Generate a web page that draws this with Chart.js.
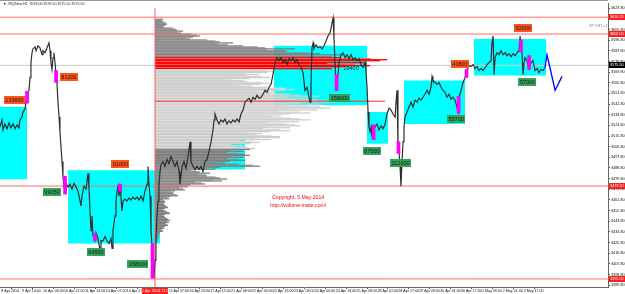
<!DOCTYPE html>
<html><head><meta charset="utf-8">
<script src="https://cdn.jsdelivr.net/npm/chart.js@4.4.1/dist/chart.umd.min.js"></script>
<style>html,body{margin:0;padding:0;background:#fff;overflow:hidden}</style>
</head><body>
<canvas id="c" width="625" height="294"></canvas>
<script>
// ---- DATA (hours since 8 Apr 2014 chart start, prices) ----
const xTickHours=[1,17,33,49,65,81,97,113,129,145,161,177,193,209,225,241,257,273,289,305,321,337,353,369,385,401];
const xTickLabels=["8 Apr 2014","9 Apr 14:00","10 Apr 06:00","10 Apr 22:00","11 Apr 14:00","14 Apr 07:00","14 Apr 23:00","15 Apr 15:00","16 Apr 07:00","16 Apr 23:00","17 Apr 15:00","21 Apr 08:00","22 Apr 00:00","22 Apr 16:00","23 Apr 08:00","24 Apr 00:00","24 Apr 16:00","25 Apr 08:00","28 Apr 01:00","28 Apr 17:00","29 Apr 09:00","30 Apr 01:00","30 Apr 17:00","1 May 09:00","2 May 01:00","2 May 17:00"];
const yTickValues=[3389.8,3398.8,3407.8,3416.8,3425.8,3434.8,3443.8,3452.8,3461.8,3470.8,3479.8,3488.8,3497.8,3506.8,3515.8,3524.8,3533.8,3542.8,3551.8,3560.8,3569.8,3578.8,3587.8,3596.8,3605.8,3614.8,3623.8];

const pricePoints=[
[0,3523.5],[1.5,3529.4],[2.3,3521.0],[3.8,3526.0],[5.4,3521.9],[6.9,3526.9],[8.4,3522.7],[10,3526.0],[11.5,3521.9],[13,3525.2],
[14.5,3522.7],[15.3,3529.4],[16.8,3531.9],[17.6,3536.1],[19.1,3538.6],[19.9,3544.4],[20.7,3548.6],[21.4,3552.8],[22.2,3554.5],[23,3565.3],
[23.7,3577.9],[24.5,3586.2],[25.3,3589.6],[26.8,3591.2],[27.6,3587.9],[29.1,3592.1],[30.6,3590.4],[32.2,3584.5],[32.9,3587.9],[34.5,3586.2],
[36,3590.4],[37.5,3594.6],[38.3,3587.9],[39,3577.9],[39.8,3572.0],[40.6,3582.0],[41.3,3586.2],[42.1,3577.9],[42.9,3567.8],[43.6,3561.1],
[44.4,3544.4],[45.2,3531.9],[45.9,3519.4],[46.7,3506.8],[47.5,3494.3],[48.2,3481.8],[49,3473.4],[49.8,3469.2],[50.5,3475.9],[52.1,3472.6],
[53.6,3475.1],[55.1,3470.9],[56.7,3475.9],[58.2,3472.6],[59.7,3469.2],[61.3,3460.9],[62,3456.7],[62.8,3465.0],[64.3,3473.4],[65.9,3470.9],
[67.4,3484.3],[68.1,3473.4],[68.9,3452.5],[69.7,3435.8],[70.4,3448.3],[71.2,3431.6],[72.7,3427.4],[73.5,3434.1],[75,3429.1],[76.6,3419.1],
[77.3,3427.4],[78.9,3427.4],[80.4,3430.8],[81.9,3427.4],[83.5,3424.9],[85,3429.1],[85.8,3420.8],[86.5,3435.8],[88.1,3448.3],[88.8,3460.9],
[89.6,3469.2],[90.4,3473.4],[91.1,3465.0],[91.9,3475.1],[92.6,3465.0],[93.4,3452.5],[94.2,3460.9],[95.7,3462.5],[97.2,3460.9],[98.8,3463.4],
[100.3,3461.7],[101.8,3464.2],[103.4,3462.5],[104.9,3464.2],[106.4,3461.7],[108,3465.0],[109.5,3460.9],[111,3469.2],[112.6,3475.1],[113.3,3490.1],
[114.1,3473.4],[114.9,3465.0],[115.6,3435.8],[116.4,3423.3],[117.2,3402.4],[117.9,3395.7],[118.7,3410.7],[119.4,3427.4],[120.2,3448.3],[121,3460.9],
[121.7,3473.4],[122.5,3485.9],[123.3,3491.8],[124.8,3494.3],[126.3,3490.1],[127.9,3496.0],[129.4,3492.6],[130.9,3498.5],[132.5,3494.3],[134,3490.1],
[135.5,3494.3],[137.1,3485.9],[137.8,3475.1],[138.6,3481.8],[139.4,3490.1],[140.9,3494.3],[142.4,3488.4],[144,3498.5],[145.5,3511.0],[146.2,3494.3],
[147.8,3490.1],[149.3,3487.6],[150.8,3490.1],[152.4,3487.6],[153.9,3490.1],[155.4,3485.9],[157,3494.3],[158.5,3496.0],[160,3502.6],[161.6,3511.0],
[163.1,3521.0],[163.9,3529.4],[164.6,3534.4],[166.2,3529.4],[167.7,3526.0],[169.2,3529.4],[170.8,3527.7],[172.3,3530.2],[173.8,3526.0],[175.3,3528.6],
[176.9,3526.9],[178.4,3529.4],[179.9,3527.7],[181.5,3530.2],[183,3527.7],[184.5,3534.4],[186.1,3537.7],[187.6,3544.4],[189.1,3546.1],[190.7,3547.8],
[192.2,3544.4],[193.7,3548.6],[195.3,3546.9],[196.8,3550.3],[198.3,3547.8],[199.9,3548.6],[201.4,3551.1],[202.9,3554.5],[204.4,3552.8],[206,3557.0],
[207.5,3559.5],[209,3567.8],[210.6,3577.9],[212.1,3582.0],[213.6,3579.5],[215.2,3582.0],[216.7,3577.9],[218.2,3580.4],[219.8,3576.2],[221.3,3581.2],
[222.8,3579.5],[224.4,3582.0],[225.9,3577.9],[227.4,3580.4],[228.9,3576.2],[230.5,3573.7],[232,3569.5],[233.5,3554.5],[235.1,3557.0],[236.6,3548.6],
[237.4,3544.4],[238.1,3561.1],[238.9,3590.4],[239.7,3594.6],[240.4,3589.6],[242,3592.9],[243.5,3590.4],[245,3591.2],[246.6,3589.6],[248.1,3592.1],
[249.6,3596.2],[251.1,3600.4],[252.7,3602.9],[254.2,3611.3],[255,3615.5],[255.7,3598.8],[256.5,3577.9],[257.3,3554.5],[258,3561.1],[258.8,3567.8],
[259.6,3577.9],[261.1,3584.5],[262.6,3586.2],[264.2,3582.0],[265.7,3584.5],[267.2,3581.2],[268.8,3584.5],[270.3,3580.4],[271.8,3582.0],[273.4,3579.5],
[274.9,3581.2],[276.4,3576.2],[277.9,3573.7],[279.5,3577.9],[280.2,3571.2],[281,3557.0],[281.8,3536.1],[282.5,3523.5],[283.3,3519.4],[284.1,3523.5],
[284.8,3515.2],[285.6,3521.0],[287.1,3523.5],[288.7,3526.0],[290.2,3521.0],[291.7,3524.4],[293.3,3521.9],[294.8,3526.0],[296.3,3534.4],[297.9,3539.4],
[299.4,3537.7],[300.9,3534.4],[302.5,3531.9],[303.2,3544.4],[304,3554.5],[304.7,3506.8],[305.5,3502.6],[306.3,3490.1],[307,3473.4],[307.8,3494.3],
[308.6,3511.0],[309.3,3523.5],[310.1,3531.9],[311.6,3536.1],[313.2,3540.3],[314.7,3544.4],[316.2,3540.3],[317.8,3546.1],[319.3,3544.4],[320.8,3547.8],
[322.4,3546.1],[323.9,3548.6],[325.4,3551.1],[327,3554.5],[328.5,3551.1],[330,3557.0],[330.8,3566.2],[331.5,3562.8],[333.1,3561.1],[334.6,3559.5],
[336.1,3561.1],[337.7,3557.0],[339.2,3554.5],[340.7,3552.8],[342.3,3548.6],[343.8,3551.1],[345.3,3546.9],[346.9,3548.6],[348.4,3546.1],[349.9,3540.3],
[350.7,3536.1],[351.5,3548.6],[353,3554.5],[354.5,3561.1],[356.1,3565.3],[357.6,3571.2],[359.1,3575.4],[360.6,3574.5],[362.2,3576.2],[363.7,3572.8],
[365.2,3574.5],[366.8,3571.2],[368.3,3572.8],[369.8,3571.2],[371.4,3573.7],[372.9,3576.2],[374.4,3577.9],[376,3579.5],[376.7,3594.6],[377.5,3600.4],
[378.3,3567.8],[379,3582.0],[380.6,3586.2],[382.1,3584.5],[383.6,3587.9],[385.1,3584.5],[386.7,3586.2],[388.2,3583.7],[389.7,3585.4],[391.3,3582.9],
[392.8,3585.4],[394.3,3583.7],[395.9,3586.2],[397.4,3587.9],[398.2,3600.4],[398.9,3590.4],[399.7,3584.5],[400.5,3567.8],[401.2,3577.9],[402,3582.0],
[403.5,3579.5],[404.3,3576.2],[405.1,3572.8],[406.6,3577.9],[408.1,3579.5],[409.6,3571.2],[411.2,3572.8],[412.7,3569.5],[414.2,3572.0],[415.8,3571.2],
[417.3,3573.7]
];

// volume-spike bars (magenta)
const spikeHours=[20.7,42.9,49.8,72.7,91.9,116.8,257.7,286,305.1,351.1,357.2,398.9,405.1];
const spikeLow =[3543.6,3561.1,3466.7,3427.4,3469.2,3395.7,3554.5,3512.7,3501.0,3535.2,3565.3,3587.1,3572.0];
const spikeHigh=[3553.6,3571.2,3481.8,3433.3,3475.1,3424.9,3567.8,3525.2,3511.0,3549.4,3572.0,3597.1,3583.7];

// cyan zones: start/end hour, top/bottom price
const zoneStart=[0,52.1,153.1,209.8,281.0,309.3,362.9];
const zoneEnd  =[20.7,122.5,187.6,281.0,297.1,356.0,418.1];
const zoneTop  =[3540.3,3486.8,3515.2,3592.1,3536.1,3562.8,3597.9];
const zoneBot  =[3479.2,3424.9,3487.6,3541.9,3509.3,3526.0,3567.0];

// horizontal levels
const fullLevels=[3616.25,3602.00,3473.50,3395.00];
const currentPrice=3575.50;
const profileLevel=3545.25;
const profileStartHour=118.7;
const profileEndHour=294.8;

// volume profile
const profileTop=[3615,3612.5,3610,3607.5,3605,3602.5,3600,3597.5,3595,3592.5,3590,3587.5,3585,3582.5,3580,3577.5,3575,3572.5,3570,3567.5,3565,3562.5,3560,3557.5,3555,3552.5,3550,3547.5,3545,3542.5,3540,3537.5,3535,3532.5,3530,3527.5,3525,3522.5,3520,3517.5,3515,3512.5,3510,3507.5,3505,3502.5,3500,3497.5,3495,3492.5,3490,3487.5,3485,3482.5,3480,3477.5,3475,3472.5,3470,3467.5,3465,3462.5,3460,3457.5,3455,3452.5,3450,3447.5,3445,3442.5,3440,3437.5,3435,3432.5,3430];
const profileVolume=[8,12,10,22,28,45,38,65,78,110,140,165,190,232,225,215,190,120,112,115,95,115,105,140,130,145,165,175,180,165,175,155,135,145,155,140,145,135,115,125,125,105,95,100,95,90,95,90,75,105,65,45,55,65,72,50,35,30,20,23,15,10,10,13,10,15,10,13,15,13,10,8,5,4,3];
const profileStep=2.5;
const pocHigh=3582.5, pocLow=3572.5, valueLow=3505;

// forecast zigzag
const forecastHours=[417.3,418.8,425.0,430.3];
const forecastValues=[3573.7,3584.5,3554.5,3566.2];

// volume labels
const noteText =["133600","81200","61000","43800","92000","99050","64500","158000","158000","29400","67500","112000","55700","57000"];
const noteKind =["sell","sell","sell","sell","sell","buy","buy","buy","buy","text","buy","buy","buy","buy"];
const noteHour =[11.1,52.8,92.3,352.2,400.5,39.8,73.5,105.7,260.3,268.8,284.8,306.7,349.2,403.9];
const noteValue=[3546.5,3565.3,3491.8,3577.0,3607.1,3468.4,3418.2,3407.4,3548.2,3573.7,3503.1,3493.0,3530.2,3561.1];

const titleText="\u25BC #NQNew,H1  3576.00 3576.50 3575.50 3575.50";
const copyText=["Copyright, 5 May 2014","http://volume-trade.com/"];
const vlineLabel="15 Apr 2014 21:00";

// ---- CHART ----
const X_MIN=0, X_MAX=465.5, Y_MIN=3388.2, Y_MAX=3628.0;
const HOURS_PER_VOL=0.766;
const FONT='"Liberation Sans", Arial, sans-serif';

function seg(x0,x1,v,color,w,order){
  return {type:'line',data:[{x:x0,y:v},{x:x1,y:v}],borderColor:color,borderWidth:w,pointRadius:0,fill:false,order:order};
}
const datasets=[];
datasets.push({type:'line',label:'forecast',data:forecastHours.map((h,i)=>({x:h,y:forecastValues[i]})),borderColor:'#0000ff',borderWidth:1.3,pointRadius:0,fill:false,order:0});
datasets.push({type:'bar',label:'spikes',data:spikeHours.map((h,i)=>({x:h,y:[spikeLow[i],spikeHigh[i]]})),backgroundColor:'#ff00ff',barThickness:3,order:0});
datasets.push({type:'line',label:'price',data:pricePoints.map(p=>({x:p[0],y:p[1]})),borderColor:'#2e2e2e',borderWidth:1.2,pointRadius:0,fill:false,order:0});
fullLevels.forEach(v=>datasets.push(seg(X_MIN,X_MAX,v,'#ff6a6a',1,0)));
datasets.push(seg(profileStartHour,profileEndHour,profileLevel,'#ff3030',1,0));
datasets.push({type:'line',data:[{x:profileStartHour,y:Y_MIN},{x:profileStartHour,y:3623.8}],borderColor:'#ff5a5a',borderWidth:1,pointRadius:0,fill:false,order:0});
datasets.push(seg(X_MIN,X_MAX,currentPrice,'#c8c8c8',1,10));
zoneStart.forEach((s,i)=>datasets.push({type:'line',data:[{x:s,y:zoneTop[i]},{x:zoneEnd[i],y:zoneTop[i]}],borderWidth:0,borderColor:'rgba(0,0,0,0)',backgroundColor:'#00ffff',fill:{value:zoneBot[i]},pointRadius:0,order:10}));

const STRIP_SHAPE=[1,0.8,0.93];
function drawProfile(chart){
  const {ctx,scales:{x,y}}=chart;
  const x0=x.getPixelForValue(profileStartHour);
  ctx.save();
  for(let i=0;i<profileTop.length;i++){
    const top=profileTop[i];
    const yt=y.getPixelForValue(top), yb=y.getPixelForValue(top-profileStep);
    const wFull=x.getPixelForValue(profileStartHour+profileVolume[i]*HOURS_PER_VOL)-x0;
    let c1,c2;
    if(top<=pocHigh && top>pocLow){c1='#ff0000';c2='#ff5a5a';}
    else if(top<=pocLow && top>valueLow){c1='#cdcdcd';c2='#dcdcdc';}
    else {c1='#7e7e7e';c2='#959595';}
    const h=(yb-yt)/STRIP_SHAPE.length;
    STRIP_SHAPE.forEach((f,k)=>{
      const ff=(i%2)?STRIP_SHAPE[(k+1)%STRIP_SHAPE.length]:f;
      ctx.fillStyle=k%2?c2:c1;
      ctx.fillRect(x0,yt+k*h,wFull*ff,h+0.3);
    });
  }
  ctx.restore();
}
function drawNotes(chart){
  const {ctx,scales:{x,y}}=chart;
  ctx.save();
  ctx.font='5.5px '+FONT;
  ctx.textAlign='center'; ctx.textBaseline='middle';
  noteText.forEach((t,i)=>{
    const px=x.getPixelForValue(noteHour[i]), py=y.getPixelForValue(noteValue[i]);
    const w=ctx.measureText(t).width+3, h=8;
    if(noteKind[i]!=='text'){
      ctx.fillStyle=noteKind[i]==='sell'?'#ff5417':'#33a35c';
      ctx.fillRect(Math.round(px-w/2),Math.round(py-h/2),Math.round(w),h);
    }
    ctx.fillStyle='#1a1a1a';
    ctx.fillText(t,px,py+0.5);
  });
  ctx.restore();
}
function drawExtras(chart){
  const {ctx,chartArea:a,scales:{x,y}}=chart;
  ctx.save();
  ctx.font='3.8px '+FONT; ctx.textBaseline='middle'; ctx.textAlign='left';
  fullLevels.concat([currentPrice]).forEach((v,i)=>{
    const py=y.getPixelForValue(v);
    ctx.fillStyle=(i===fullLevels.length)?'#000':'#ff1e1e';
    ctx.fillRect(a.right+1,Math.round(py-3),chart.width-a.right-1,6);
    ctx.fillStyle='#fff';
    ctx.fillText(v.toFixed(2),a.right+2,py);
  });
  const vx=x.getPixelForValue(profileStartHour);
  ctx.fillStyle='#ff1e1e';
  ctx.fillRect(Math.round(vx-13),a.bottom+1,26,6);
  ctx.fillStyle='#fff'; ctx.textAlign='center';
  ctx.fillText(vlineLabel,vx,a.bottom+4);
  ctx.fillStyle='#222'; ctx.textAlign='left'; ctx.font='3.6px '+FONT;
  ctx.fillText(titleText,a.left+3,4);
  ctx.fillStyle='#777';
  ctx.fillText('VP ORT =2',x.getPixelForValue(451),y.getPixelForValue(3608.8));
  ctx.fillStyle='#ff0000'; ctx.font='5.2px '+FONT;
  ctx.fillText(copyText[0],x.getPixelForValue(208.3),y.getPixelForValue(3463.4));
  ctx.fillText(copyText[1],x.getPixelForValue(207),y.getPixelForValue(3457.2));
  ctx.strokeStyle='#9a9a9a'; ctx.lineWidth=1;
  ctx.beginPath(); ctx.moveTo(0,0.5); ctx.lineTo(a.right,0.5); ctx.stroke();
  ctx.restore();
}
const overlay={
  id:'overlay',
  beforeDraw(chart){chart.$pd=false;},
  beforeDatasetDraw(chart,args){
    const ds=chart.data.datasets[args.index];
    if(!chart.$pd && (ds.order||0)<10){drawProfile(chart);chart.$pd=true;}
  },
  afterDatasetsDraw(chart){drawNotes(chart);},
  afterDraw(chart){drawExtras(chart);}
};

new Chart(document.getElementById('c'),{
  type:'line',
  data:{datasets},
  plugins:[overlay],
  options:{
    responsive:false,animation:false,devicePixelRatio:1,
    layout:{padding:0},
    plugins:{legend:{display:false},tooltip:{enabled:false}},
    elements:{line:{tension:0}},
    scales:{
      x:{type:'linear',min:X_MIN,max:X_MAX,offset:false,
        afterBuildTicks:s=>{s.ticks=xTickHours.map(v=>({value:v}));},
        afterFit:s=>{s.height=7;},
        grid:{drawOnChartArea:false,tickLength:2,color:'#555'},
        border:{color:'#666'},
        ticks:{autoSkip:false,maxRotation:0,minRotation:0,align:'start',padding:0,color:'#111',font:{size:3.6,family:FONT},callback:(v,i)=>xTickLabels[i]}
      },
      y:{type:'linear',position:'right',min:Y_MIN,max:Y_MAX,
        afterBuildTicks:s=>{s.ticks=yTickValues.map(v=>({value:v}));},
        afterFit:s=>{s.width=17;},
        grid:{drawOnChartArea:false,tickLength:2,color:'#555'},
        border:{color:'#666'},
        ticks:{padding:1,color:'#111',font:{size:3.8,family:FONT},callback:v=>Number(v).toFixed(2)}
      }
    }
  }
});
</script>
</body></html>
